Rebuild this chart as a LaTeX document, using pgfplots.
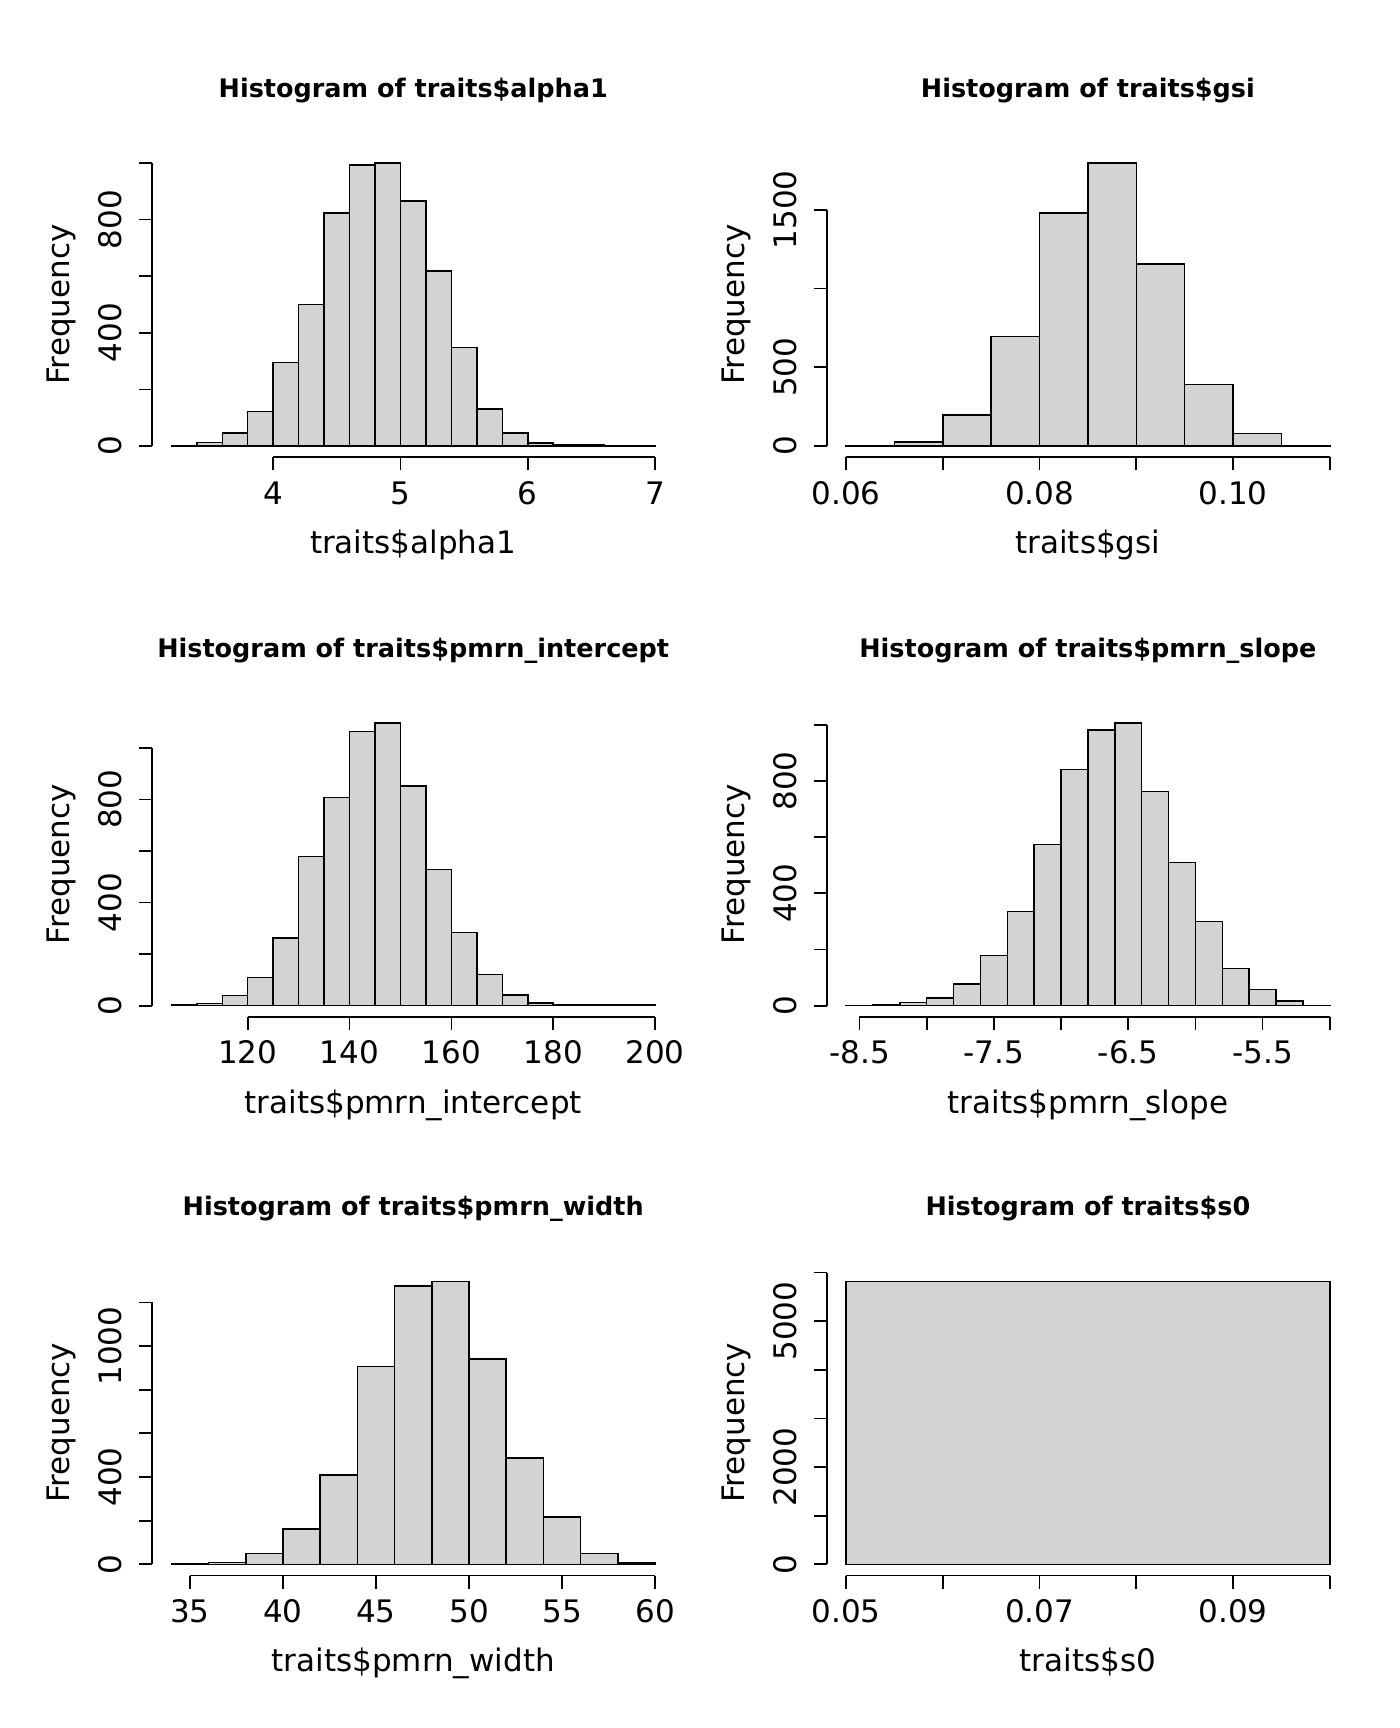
\documentclass[border=0pt]{standalone}
\usepackage{pgfplots}
\pgfplotsset{compat=1.18}
\usepackage{fontspec}
\setmainfont{DejaVu Sans}
\definecolor{barfill}{HTML}{D3D3D3}
\newcommand{\lab}{\fontsize{15.5}{18}\selectfont}
\newcommand{\ttl}{\fontsize{12.75}{15}\selectfont\bfseries}
\pgfplotsset{
 rh/.style={
  scale only axis, width=261.2pt, height=152.75pt,
  axis x line*=bottom, axis y line*=left,
  axis line style={draw=none},
  tick align=outside, major tick length=6.5pt,
  tick style={black, line width=0.85pt},
  xticklabel style={font=\lab, anchor=base, yshift=-16.9pt},
  yticklabel style={font=\lab, xshift=-8.75pt, rotate=90, anchor=base},
  clip=false, minor tick num=0, anchor=south west,
 },
 bars/.style={ybar interval, fill=barfill, draw=black, line width=0.75pt},
}
\newcommand{\decor}[2]{%
 \node[font=\ttl, anchor=base] at ([yshift=27.25pt]rel axis cs:0.5,1) {Histogram of #1};
 \node[font=\lab, anchor=base] at ([yshift=-48pt]rel axis cs:0.5,0) {#1};
 \node[font=\lab, anchor=base, rotate=90] at ([xshift=-41.2pt]rel axis cs:0,0.5) {Frequency};
}
\begin{document}
\begin{tikzpicture}
\path[use as bounding box] (0,0) rectangle (700pt,-864pt);
% Panel 1
\begin{axis}[rh, at={(76pt,-228.65pt)},
 xmin=3.048, xmax=7.152, ymin=-39.96, ymax=1038.96,
 xtick={4,5,6,7}, xticklabels={4,5,6,7},
 ytick={0,200,400,600,800,1000}, yticklabels={0,,400,,800,}]
\addplot[bars] coordinates {(3.2,2)(3.4,13)(3.6,46)(3.8,122)(4.0,295)(4.2,499)(4.4,822)(4.6,992)(4.8,999)(5.0,866)(5.2,618)(5.4,347)(5.6,131)(5.8,46)(6.0,11)(6.2,5)(6.4,4)(6.6,1)(6.8,2)(7.0,2)};
\draw[line width=0.85pt] (axis cs:4,-39.96) -- (axis cs:7,-39.96);
\draw[line width=0.85pt] (axis cs:3.048,0) -- (axis cs:3.048,1000);
\decor{traits\$alpha1}{}
\end{axis}
% Panel 2
\begin{axis}[rh, at={(413.35pt,-228.65pt)},
 xmin=0.058, xmax=0.112, ymin=-71.88, ymax=1868.88,
 xtick={0.06,0.07,0.08,0.09,0.10,0.11}, xticklabels={0.06,,0.08,,0.10,},
 ytick={0,500,1000,1500}, yticklabels={0,500,,1500}]
\addplot[bars] coordinates {(0.060,2)(0.065,25)(0.070,197)(0.075,697)(0.080,1481)(0.085,1797)(0.090,1155)(0.095,392)(0.100,78)(0.105,2)(0.110,2)};
\draw[line width=0.85pt] (axis cs:0.06,-71.88) -- (axis cs:0.11,-71.88);
\draw[line width=0.85pt] (axis cs:0.058,0) -- (axis cs:0.058,1500);
\decor{traits\$gsi}{}
\end{axis}
% Panel 3
\begin{axis}[rh, at={(76pt,-508.5pt)},
 xmin=101.2, xmax=203.8, ymin=-43.88, ymax=1140.88,
 xtick={120,140,160,180,200}, xticklabels={120,140,160,180,200},
 ytick={0,200,400,600,800,1000}, yticklabels={0,,400,,800,}]
\addplot[bars] coordinates {(105,3)(110,8)(115,39)(120,110)(125,263)(130,578)(135,808)(140,1063)(145,1097)(150,852)(155,529)(160,283)(165,121)(170,41)(175,10)(180,4)(185,2)(190,2)(195,3)(200,3)};
\draw[line width=0.85pt] (axis cs:120,-43.88) -- (axis cs:200,-43.88);
\draw[line width=0.85pt] (axis cs:101.2,0) -- (axis cs:101.2,1000);
\decor{traits\$pmrn\_intercept}{}
\end{axis}
% Panel 4
\begin{axis}[rh, at={(413.35pt,-508.5pt)},
 xmin=-8.744, xmax=-4.856, ymin=-40.28, ymax=1047.28,
 xtick={-8.5,-8,-7.5,-7,-6.5,-6,-5.5,-5}, xticklabels={-8.5,,-7.5,,-6.5,,-5.5,},
 ytick={0,200,400,600,800,1000}, yticklabels={0,,400,,800,}]
\addplot[bars] coordinates {(-8.6,1)(-8.4,2)(-8.2,12)(-8.0,28)(-7.8,77)(-7.6,178)(-7.4,336)(-7.2,573)(-7.0,841)(-6.8,982)(-6.6,1007)(-6.4,762)(-6.2,510)(-6.0,300)(-5.8,133)(-5.6,58)(-5.4,17)(-5.2,1)(-5.0,1)};
\draw[line width=0.85pt] (axis cs:-8.5,-40.28) -- (axis cs:-5,-40.28);
\draw[line width=0.85pt] (axis cs:-8.744,0) -- (axis cs:-8.744,1000);
\decor{traits\$pmrn\_slope}{}
\end{axis}
% Panel 5
\begin{axis}[rh, at={(76pt,-787.8pt)},
 xmin=32.96, xmax=61.04, ymin=-51.84, ymax=1347.84,
 xtick={35,40,45,50,55,60}, xticklabels={35,40,45,50,55,60},
 ytick={0,200,400,600,800,1000,1200}, yticklabels={0,,400,,,1000,}]
\addplot[bars] coordinates {(34,3)(36,9)(38,49)(40,162)(42,409)(44,907)(46,1275)(48,1296)(50,940)(52,487)(54,217)(56,49)(58,6)(60,6)};
\draw[line width=0.85pt] (axis cs:35,-51.84) -- (axis cs:60,-51.84);
\draw[line width=0.85pt] (axis cs:32.96,0) -- (axis cs:32.96,1200);
\decor{traits\$pmrn\_width}{}
\end{axis}
% Panel 6
\begin{axis}[rh, at={(413.35pt,-787.8pt)},
 xmin=0.048, xmax=0.102, ymin=-232.72, ymax=6050.72,
 xtick={0.05,0.06,0.07,0.08,0.09,0.10}, xticklabels={0.05,,0.07,,0.09,},
 ytick={0,1000,2000,3000,4000,5000,6000}, yticklabels={0,,2000,,,5000,}]
\addplot[bars] coordinates {(0.05,5818)(0.10,5818)};
\draw[line width=0.85pt] (axis cs:0.05,-232.72) -- (axis cs:0.10,-232.72);
\draw[line width=0.85pt] (axis cs:0.048,0) -- (axis cs:0.048,6000);
\decor{traits\$s0}{}
\end{axis}
\end{tikzpicture}
\end{document}
